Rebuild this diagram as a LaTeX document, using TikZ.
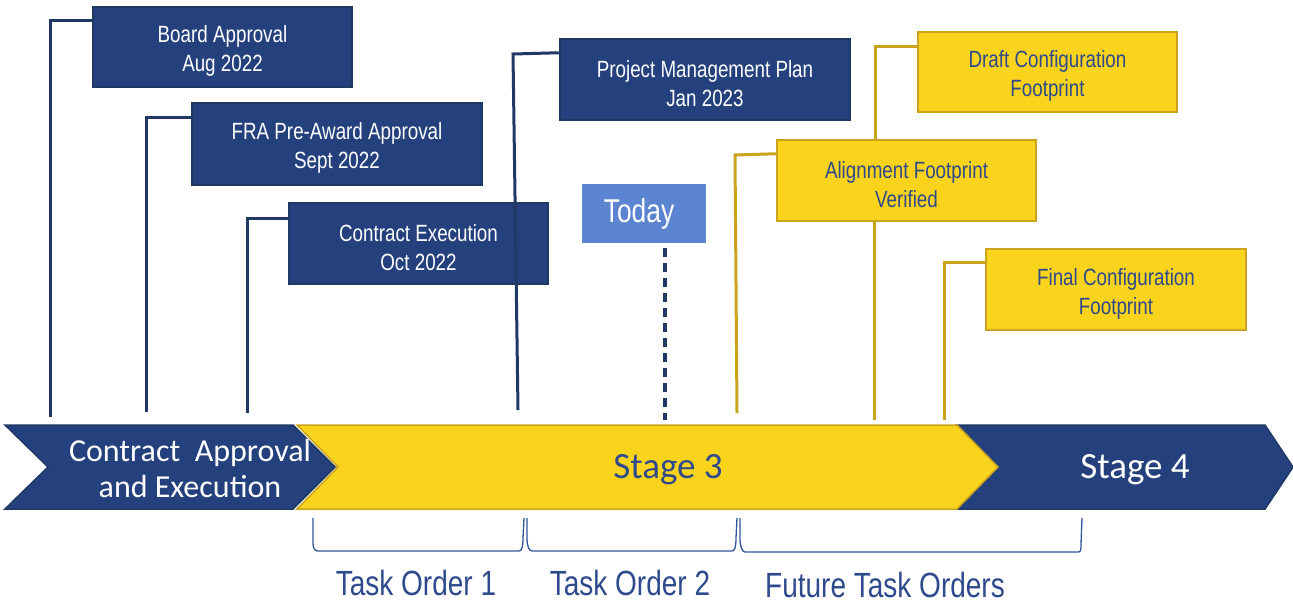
\documentclass[tikz,border=0pt]{standalone}
\usepackage{fontspec}
\setmainfont{Liberation Sans}
\newfontfamily\narrowfont[FakeStretch=0.8]{Liberation Sans}
\newfontfamily\calfont{Carlito}
\newcommand{\tstrut}{\rule{0pt}{25pt}}
\definecolor{navy}{HTML}{24417E}
\definecolor{navyedge}{HTML}{1F3864}
\definecolor{gold}{HTML}{F9D31C}
\definecolor{goldedge}{HTML}{C9A41C}
\definecolor{todayblue}{HTML}{5B84D1}
\definecolor{textblue}{HTML}{2E4A8C}
\definecolor{brkblue}{HTML}{2F5597}
\tikzset{
  navybox/.style={draw=navyedge, fill=navy, line width=2.5pt, text=white, minimum height=80pt, align=center, inner sep=0pt, font=\narrowfont\fontsize{23.5}{29}\selectfont},
  goldbox/.style={draw=goldedge, fill=gold, line width=2.5pt, text=textblue, minimum height=80pt, align=center, inner sep=0pt, font=\narrowfont\fontsize{23.5}{29}\selectfont},
  navyline/.style={draw=navyedge, line width=3pt},
  goldline/.style={draw=goldedge, line width=3pt},
  chevlabel/.style={font=\calfont\fontsize{32}{36}\selectfont, align=center},
  stagelabel/.style={font=\calfont\fontsize{37}{40}\selectfont, align=center},
  tolabel/.style={font=\narrowfont\fontsize{35}{40}\selectfont, text=textblue, inner sep=0pt},
  bracket/.style={draw=brkblue, line width=1.3pt},
}
\begin{document}
\begin{tikzpicture}[x=1pt, y=-1pt]
\useasboundingbox (0,0) rectangle (1293,603);

% chevrons
\path[fill=navy, draw=navyedge, line width=1.5pt] (957,425) -- (1265,425) -- (1293,467) -- (1265,509) -- (957,509) -- (998,467) -- cycle;
\path[fill=gold, draw=goldedge, line width=1.5pt] (297,425) -- (957,425) -- (998,467) -- (957,509) -- (297,509) -- (338,467) -- cycle;
\path[fill=navy, draw=navyedge, line width=1.5pt] (5,425) -- (293,425) -- (335,467) -- (293,509) -- (5,509) -- (48,467) -- cycle;

\node[chevlabel, text=white] (cae) at (190,468) {Contract\ \ Approval\\and Execution};
\node[stagelabel, text=textblue] (s3) at (668,470) {Stage 3};
\node[stagelabel, text=white] (s4) at (1135,470) {Stage 4};

% milestone boxes
\node[navybox, minimum width=259pt, minimum height=80pt] (board) at (222.5,47) {\tstrut Board Approval\\Aug 2022};
\node[navybox, minimum width=290pt, minimum height=82pt] (fra) at (337,144) {\tstrut FRA Pre-Award Approval\\Sept 2022};
\node[navybox, minimum width=259pt, minimum height=81pt] (cex) at (418.5,243.5) {\tstrut Contract Execution\\Oct 2022};
\node[navybox, minimum width=290pt, minimum height=81pt] (pmp) at (705,79.5) {\tstrut Project Management Plan\\Jan 2023};
\node[fill=todayblue, text=white, minimum width=124pt, minimum height=59pt, inner sep=0pt, font=\narrowfont\fontsize{33}{36}\selectfont] (today) at (644,213.5) {\raisebox{-2pt}{Today}\hspace*{10pt}};
\node[goldbox, minimum width=259pt, minimum height=80pt] (draft) at (1047.5,72) {\tstrut Draft Configuration\\Footprint};
\node[goldbox, minimum width=260pt, minimum height=81pt] (final) at (1116,289.5) {\tstrut Final Configuration\\Footprint};

% bottom ends of connectors
\coordinate (e1) at (50,417);
\coordinate (e2) at (146,412);
\coordinate (e3) at (247,413);
\coordinate (e4) at (518,410);
\coordinate (e5) at (737,413);
\coordinate (e6) at (874,420);
\coordinate (e7) at (944,420);
\coordinate (e8) at (665,420);
\coordinate (p4) at (513,54);
\coordinate (p5) at (735,155);

\draw[navyline] ([yshift=-15pt]board.north west) -| (e1);
\draw[navyline] ([yshift=-16pt]fra.north west) -| (e2);
\draw[navyline] ([yshift=-17pt]cex.north west) -| (e3);
\draw[navyline] ([yshift=-15pt]pmp.north west) -- (p4) -- (e4);
\draw[navyedge, line width=3.5pt, dash pattern=on 9pt off 6pt] ([xshift=21pt,yshift=-5pt]today.south) -- (e8);

\node[goldbox, minimum width=259pt, minimum height=81pt] (align) at (906.5,180.5) {\tstrut Alignment Footprint\\Verified};
\draw[goldline] ([yshift=-16pt]draft.north west) -| ([xshift=-31.5pt]align.north);
\draw[goldline] ([xshift=-32.5pt]align.south) -- (e6);
\draw[goldline] ([yshift=-15pt]align.north west) -- (p5) -- (e5);
\draw[goldline] ([yshift=-15pt]final.north west) -| (e7);

% brackets
\coordinate (b1a) at (313,518); \coordinate (b1b) at (524,518);
\coordinate (b2a) at (527,518); \coordinate (b2b) at (737,518);
\coordinate (b3a) at (740,518); \coordinate (b3b) at (1082,518);
\draw[bracket] (b1a) -- ([yshift=-24pt]b1a) .. controls +(0,7) and +(-3,0) .. ([xshift=5pt,yshift=-33pt]b1a) -- ([xshift=-5pt,yshift=-33pt]b1b) .. controls +(3,0) and +(0,8) .. ([xshift=-1pt,yshift=-20pt]b1b) -- (b1b);
\draw[bracket] (b2a) -- ([yshift=-20pt]b2a) .. controls +(0,8) and +(-3,0) .. ([xshift=5pt,yshift=-33pt]b2a) -- ([xshift=-5pt,yshift=-33pt]b2b) .. controls +(3,0) and +(0,8) .. ([xshift=-1pt,yshift=-20pt]b2b) -- (b2b);
\draw[bracket] (b3a) -- ([yshift=-20pt]b3a) .. controls +(0,8) and +(-3,0) .. ([xshift=5pt,yshift=-34pt]b3a) -- ([xshift=-4pt,yshift=-34pt]b3b) .. controls +(3,0) and +(0,6) .. ([xshift=-1pt,yshift=-26pt]b3b) -- (b3b);

\node[tolabel] (to1) at (416,583) {Task Order 1};
\node[tolabel] (to2) at (630,583) {Task Order 2};
\node[tolabel] (fto) at (885,585) {Future Task Orders};
\end{tikzpicture}
\end{document}
